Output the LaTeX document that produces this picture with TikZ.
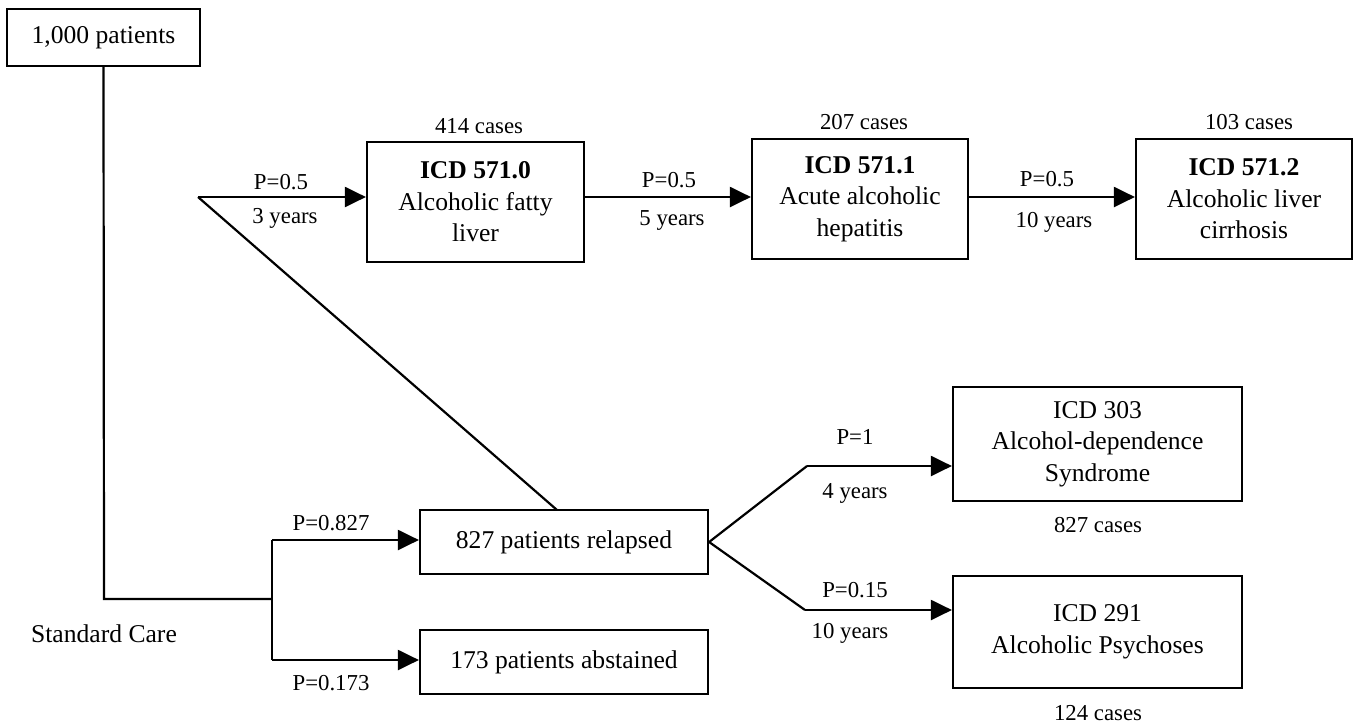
\documentclass[tikz,border=0pt]{standalone}
\usepackage{fontspec}
\setmainfont{Liberation Serif}
\usetikzlibrary{arrows.meta}
\begin{document}
\begin{tikzpicture}[x=0.5pt,y=-0.5pt,
  box/.style={draw,line width=1.1pt,rectangle,align=center,inner sep=0pt,font=\fontsize{12.8}{15.8}\selectfont},
  lbl/.style={inner sep=0pt,font=\fontsize{11.4}{14}\selectfont},
  big/.style={inner sep=0pt,font=\fontsize{12.8}{16}\selectfont},
  ln/.style={line width=1.1pt},
  arr/.style={line width=1.1pt,-{Triangle[length=10.5pt,width=10pt]}}]
\useasboundingbox (0,0) rectangle (1362,723);
% boxes
\node[box,minimum width=96.5pt,minimum height=28.5pt] (start) at (103.5,37.5) {1,000 patients};
\node[box,minimum width=108.5pt,minimum height=60pt] (fatty) at (475.5,202) {\textbf{ICD 571.0}\\Alcoholic fatty\\liver};
\node[box,minimum width=108pt,minimum height=60pt] (hep) at (860,199) {\textbf{ICD 571.1}\\Acute alcoholic\\hepatitis};
\node[box,minimum width=108pt,minimum height=60pt] (cirr) at (1244,199) {\textbf{ICD 571.2}\\Alcoholic liver\\cirrhosis};
\node[box,minimum width=144pt,minimum height=32pt] (rel) at (564,542) {827 patients relapsed};
\node[box,minimum width=144pt,minimum height=32pt] (abs) at (564,662) {173 patients abstained};
\node[box,minimum width=144.5pt,minimum height=57pt] (dep) at (1097.5,444) {ICD 303\\Alcohol-dependence\\Syndrome};
\node[box,minimum width=144.5pt,minimum height=56pt] (psy) at (1097.5,632) {ICD 291\\Alcoholic Psychoses};
% coordinates
\coordinate (corner) at (104,599);
\coordinate (split) at (272,599);
\coordinate (s1) at (272,540);
\coordinate (s2) at (272,660);
\coordinate (fork) at (198,197);
\coordinate (rtop) at (557,510);
\coordinate (up) at (807,466);
\coordinate (dn) at (805,610);
% connectors
\draw[ln] (start.south) -- (corner) -- (split);
\draw[ln] (s1) -- (s2);
\draw[arr] (s1) -- (s1 -| rel.west);
\draw[arr] (s2) -- (s2 -| abs.west);
\draw[ln] (rtop) -- (fork);
\draw[arr] (fork) -- (fork -| fatty.west);
\draw[arr] (fatty.east |- fork) -- (fork -| hep.west);
\draw[arr] (hep.east |- fork) -- (fork -| cirr.west);
\draw[ln] (up) -- (rel.east) -- (dn);
\draw[arr] (up) -- (up -| dep.west);
\draw[arr] (dn) -- (dn -| psy.west);
% labels
\node[lbl] (l1) at (281,182) {P=0.5};
\node[lbl] (l2) at (285,218) {3 years};
\node[lbl] (l3) at (669,180) {P=0.5};
\node[lbl] (l4) at (672,220) {5 years};
\node[lbl] (l5) at (1047,179) {P=0.5};
\node[lbl] (l6) at (1054,222) {10 years};
\node[lbl] (c1) at (479,126) {414 cases};
\node[lbl] (c2) at (864,122) {207 cases};
\node[lbl] (c3) at (1249,122) {103 cases};
\node[lbl] (p1) at (331,523) {P=0.827};
\node[lbl] (p2) at (331,683) {P=0.173};
\node[big] (sc) at (104,634) {Standard Care};
\node[lbl] (q1) at (855,437) {P=1};
\node[lbl] (q2) at (855,493) {4 years};
\node[lbl] (q3) at (855,590) {P=0.15};
\node[lbl] (q4) at (850,633) {10 years};
\node[lbl] (c4) at (1098,525) {827 cases};
\node[lbl] (c5) at (1098,713) {124 cases};
\end{tikzpicture}
\end{document}
